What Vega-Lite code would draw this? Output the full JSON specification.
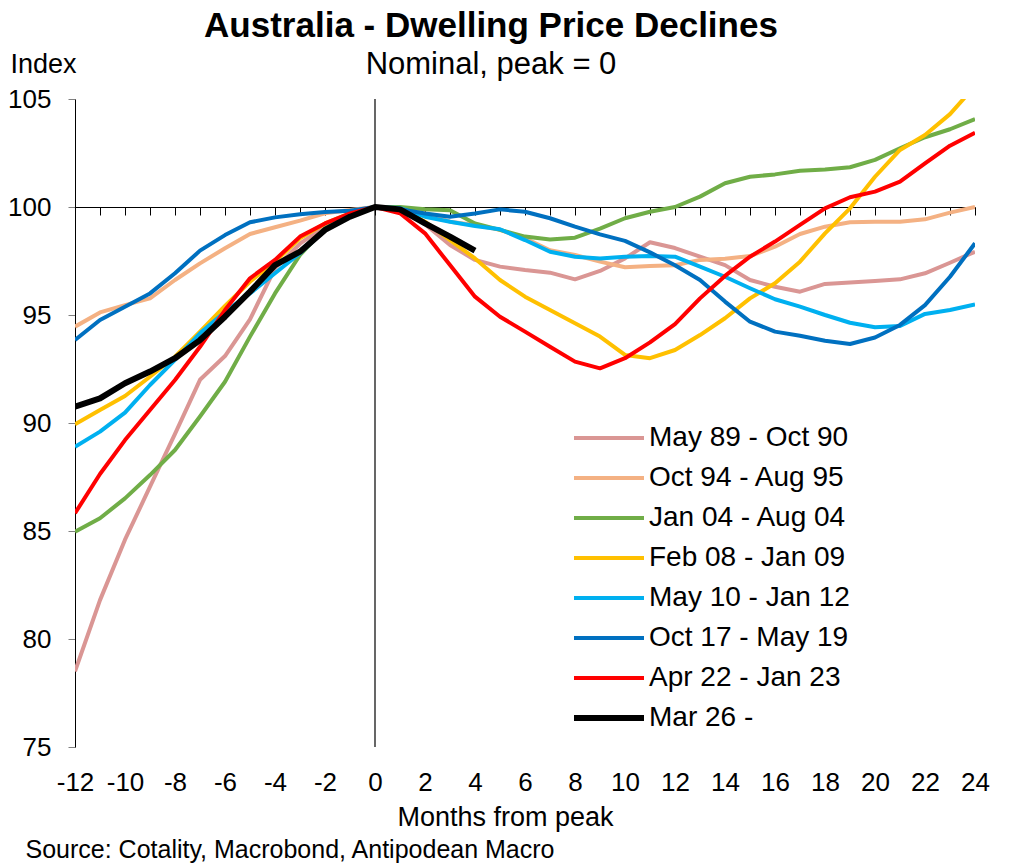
{
  "$schema": "https://vega.github.io/schema/vega-lite/v6.json",
  "width": 900,
  "height": 648,
  "autosize": {"type": "none"},
  "padding": {"left": 75, "top": 99, "right": 35, "bottom": 120},
  "background": "white",
  "config": {"view": {"stroke": null}, "font": "Liberation Sans"},
  "title": {
    "text": "Australia - Dwelling Price Declines",
    "subtitle": "Nominal, peak = 0",
    "anchor": "middle",
    "frame": "group",
    "dx": -34,
    "offset": -30,
    "font": "Liberation Sans",
    "fontSize": 35,
    "fontWeight": "bold",
    "color": "black",
    "subtitleFont": "Liberation Sans",
    "subtitleFontSize": 31,
    "subtitleColor": "black",
    "subtitlePadding": 6
  },
  "layer": [
    {
      "data": {"values": [{}]},
      "mark": {"type": "rule", "color": "black", "strokeWidth": 1.2},
      "encoding": {
        "x": {
          "datum": 0,
          "type": "quantitative",
          "scale": {"domain": [-12, 24], "nice": false, "zero": false},
          "axis": {
            "orient": "bottom",
            "offset": -540,
            "values": [-12, -11, -10, -9, -8, -7, -6, -5, -4, -3, -2, -1, 0, 1, 2, 3, 4, 5, 6, 7, 8, 9, 10, 11, 12, 13, 14, 15, 16, 17, 18, 19, 20, 21, 22, 23, 24],
            "labels": false,
            "grid": false,
            "ticks": true,
            "tickSize": 8,
            "tickColor": "black",
            "domainColor": "black",
            "title": "Source: Cotality, Macrobond, Antipodean Macro",
            "titleFont": "Liberation Sans",
            "titleFontSize": 25,
            "titleFontWeight": "normal",
            "titleColor": "black",
            "titleAlign": "left",
            "titleAnchor": "start",
            "titleBaseline": "alphabetic",
            "titleX": -50,
            "titleY": 650
          }
        }
      }
    },
    {
      "data": {
        "values": [
          {"month": -12, "May 89 - Oct 90": 78.5, "Oct 94 - Aug 95": 94.46, "Jan 04 - Aug 04": 84.97, "Feb 08 - Jan 09": 89.94, "May 10 - Jan 12": 88.9, "Oct 17 - May 19": 93.84, "Apr 22 - Jan 23": 85.82, "Mar 26 -": 90.76},
          {"month": -11, "May 89 - Oct 90": 81.8, "Oct 94 - Aug 95": 95.12, "Jan 04 - Aug 04": 85.59, "Feb 08 - Jan 09": 90.6, "May 10 - Jan 12": 89.6, "Oct 17 - May 19": 94.77, "Apr 22 - Jan 23": 87.64, "Mar 26 -": 91.14},
          {"month": -10, "May 89 - Oct 90": 84.6, "Oct 94 - Aug 95": 95.46, "Jan 04 - Aug 04": 86.51, "Feb 08 - Jan 09": 91.25, "May 10 - Jan 12": 90.48, "Oct 17 - May 19": 95.38, "Apr 22 - Jan 23": 89.21, "Mar 26 -": 91.84},
          {"month": -9, "May 89 - Oct 90": 87.05, "Oct 94 - Aug 95": 95.77, "Jan 04 - Aug 04": 87.59, "Feb 08 - Jan 09": 92.14, "May 10 - Jan 12": 91.76, "Oct 17 - May 19": 96.0, "Apr 22 - Jan 23": 90.6, "Mar 26 -": 92.38},
          {"month": -8, "May 89 - Oct 90": 89.5, "Oct 94 - Aug 95": 96.62, "Jan 04 - Aug 04": 88.75, "Feb 08 - Jan 09": 93.07, "May 10 - Jan 12": 92.92, "Oct 17 - May 19": 96.93, "Apr 22 - Jan 23": 91.99, "Mar 26 -": 93.0},
          {"month": -7, "May 89 - Oct 90": 92.0, "Oct 94 - Aug 95": 97.39, "Jan 04 - Aug 04": 90.3, "Feb 08 - Jan 09": 94.23, "May 10 - Jan 12": 94.15, "Oct 17 - May 19": 97.98, "Apr 22 - Jan 23": 93.53, "Mar 26 -": 93.84},
          {"month": -6, "May 89 - Oct 90": 93.1, "Oct 94 - Aug 95": 98.09, "Jan 04 - Aug 04": 91.91, "Feb 08 - Jan 09": 95.42, "May 10 - Jan 12": 95.15, "Oct 17 - May 19": 98.7, "Apr 22 - Jan 23": 95.23, "Mar 26 -": 94.92},
          {"month": -5, "May 89 - Oct 90": 94.8, "Oct 94 - Aug 95": 98.75, "Jan 04 - Aug 04": 94.0, "Feb 08 - Jan 09": 96.54, "May 10 - Jan 12": 96.0, "Oct 17 - May 19": 99.29, "Apr 22 - Jan 23": 96.7, "Mar 26 -": 96.08},
          {"month": -4, "May 89 - Oct 90": 97.16, "Oct 94 - Aug 95": 99.06, "Jan 04 - Aug 04": 96.0, "Feb 08 - Jan 09": 97.47, "May 10 - Jan 12": 96.93, "Oct 17 - May 19": 99.52, "Apr 22 - Jan 23": 97.55, "Mar 26 -": 97.31},
          {"month": -3, "May 89 - Oct 90": 98.3, "Oct 94 - Aug 95": 99.37, "Jan 04 - Aug 04": 97.78, "Feb 08 - Jan 09": 98.55, "May 10 - Jan 12": 97.86, "Oct 17 - May 19": 99.66, "Apr 22 - Jan 23": 98.63, "Mar 26 -": 97.93},
          {"month": -2, "May 89 - Oct 90": 99.1, "Oct 94 - Aug 95": 99.71, "Jan 04 - Aug 04": 99.01, "Feb 08 - Jan 09": 99.24, "May 10 - Jan 12": 98.94, "Oct 17 - May 19": 99.77, "Apr 22 - Jan 23": 99.24, "Mar 26 -": 98.94},
          {"month": -1, "May 89 - Oct 90": 99.63, "Oct 94 - Aug 95": 99.86, "Jan 04 - Aug 04": 99.7, "Feb 08 - Jan 09": 99.71, "May 10 - Jan 12": 99.7, "Oct 17 - May 19": 99.83, "Apr 22 - Jan 23": 99.7, "Mar 26 -": 99.55},
          {"month": 0, "May 89 - Oct 90": 100, "Oct 94 - Aug 95": 100, "Jan 04 - Aug 04": 100, "Feb 08 - Jan 09": 100, "May 10 - Jan 12": 100, "Oct 17 - May 19": 100, "Apr 22 - Jan 23": 100, "Mar 26 -": 100},
          {"month": 1, "May 89 - Oct 90": 99.9, "Oct 94 - Aug 95": 99.96, "Jan 04 - Aug 04": 100.0, "Feb 08 - Jan 09": 99.94, "May 10 - Jan 12": 99.95, "Oct 17 - May 19": 99.9, "Apr 22 - Jan 23": 99.71, "Mar 26 -": 99.89},
          {"month": 2, "May 89 - Oct 90": 99.2, "Oct 94 - Aug 95": 99.7, "Jan 04 - Aug 04": 99.9, "Feb 08 - Jan 09": 99.32, "May 10 - Jan 12": 99.55, "Oct 17 - May 19": 99.7, "Apr 22 - Jan 23": 98.78, "Mar 26 -": 99.24},
          {"month": 3, "May 89 - Oct 90": 98.24, "Oct 94 - Aug 95": 99.32, "Jan 04 - Aug 04": 99.85, "Feb 08 - Jan 09": 98.47, "May 10 - Jan 12": 99.32, "Oct 17 - May 19": 99.55, "Apr 22 - Jan 23": 97.31, "Mar 26 -": 98.63},
          {"month": 4, "May 89 - Oct 90": 97.55, "Oct 94 - Aug 95": 99.17, "Jan 04 - Aug 04": 99.24, "Feb 08 - Jan 09": 97.62, "May 10 - Jan 12": 99.12, "Oct 17 - May 19": 99.7, "Apr 22 - Jan 23": 95.85, "Mar 26 -": 97.98},
          {"month": 5, "May 89 - Oct 90": 97.24, "Oct 94 - Aug 95": 98.94, "Jan 04 - Aug 04": 98.94, "Feb 08 - Jan 09": 96.62, "May 10 - Jan 12": 98.97, "Oct 17 - May 19": 99.89, "Apr 22 - Jan 23": 94.92},
          {"month": 6, "May 89 - Oct 90": 97.08, "Oct 94 - Aug 95": 98.55, "Jan 04 - Aug 04": 98.63, "Feb 08 - Jan 09": 95.85, "May 10 - Jan 12": 98.47, "Oct 17 - May 19": 99.78, "Apr 22 - Jan 23": 94.23},
          {"month": 7, "May 89 - Oct 90": 96.96, "Oct 94 - Aug 95": 98.0, "Jan 04 - Aug 04": 98.5, "Feb 08 - Jan 09": 95.23, "May 10 - Jan 12": 97.93, "Oct 17 - May 19": 99.48, "Apr 22 - Jan 23": 93.53},
          {"month": 8, "May 89 - Oct 90": 96.65, "Oct 94 - Aug 95": 97.78, "Jan 04 - Aug 04": 98.58, "Feb 08 - Jan 09": 94.62, "May 10 - Jan 12": 97.7, "Oct 17 - May 19": 99.09, "Apr 22 - Jan 23": 92.84},
          {"month": 9, "May 89 - Oct 90": 97.04, "Oct 94 - Aug 95": 97.47, "Jan 04 - Aug 04": 99.0, "Feb 08 - Jan 09": 94.0, "May 10 - Jan 12": 97.62, "Oct 17 - May 19": 98.73, "Apr 22 - Jan 23": 92.53},
          {"month": 10, "May 89 - Oct 90": 97.62, "Oct 94 - Aug 95": 97.21, "Jan 04 - Aug 04": 99.48, "Feb 08 - Jan 09": 93.15, "May 10 - Jan 12": 97.7, "Oct 17 - May 19": 98.43, "Apr 22 - Jan 23": 93.0},
          {"month": 11, "May 89 - Oct 90": 98.37, "Oct 94 - Aug 95": 97.27, "Jan 04 - Aug 04": 99.78, "Feb 08 - Jan 09": 93.0, "May 10 - Jan 12": 97.73, "Oct 17 - May 19": 97.9, "Apr 22 - Jan 23": 93.73},
          {"month": 12, "May 89 - Oct 90": 98.1, "Oct 94 - Aug 95": 97.3, "Jan 04 - Aug 04": 100.0, "Feb 08 - Jan 09": 93.38, "May 10 - Jan 12": 97.7, "Oct 17 - May 19": 97.3, "Apr 22 - Jan 23": 94.58},
          {"month": 13, "May 89 - Oct 90": 97.7, "Oct 94 - Aug 95": 97.55, "Jan 04 - Aug 04": 100.48, "Feb 08 - Jan 09": 94.07, "May 10 - Jan 12": 97.24, "Oct 17 - May 19": 96.62, "Apr 22 - Jan 23": 95.77},
          {"month": 14, "May 89 - Oct 90": 97.31, "Oct 94 - Aug 95": 97.6, "Jan 04 - Aug 04": 101.1, "Feb 08 - Jan 09": 94.85, "May 10 - Jan 12": 96.77, "Oct 17 - May 19": 95.62, "Apr 22 - Jan 23": 96.81},
          {"month": 15, "May 89 - Oct 90": 96.62, "Oct 94 - Aug 95": 97.73, "Jan 04 - Aug 04": 101.4, "Feb 08 - Jan 09": 95.77, "May 10 - Jan 12": 96.24, "Oct 17 - May 19": 94.69, "Apr 22 - Jan 23": 97.7},
          {"month": 16, "May 89 - Oct 90": 96.31, "Oct 94 - Aug 95": 98.16, "Jan 04 - Aug 04": 101.51, "Feb 08 - Jan 09": 96.47, "May 10 - Jan 12": 95.73, "Oct 17 - May 19": 94.23, "Apr 22 - Jan 23": 98.4},
          {"month": 17, "May 89 - Oct 90": 96.08, "Oct 94 - Aug 95": 98.75, "Jan 04 - Aug 04": 101.68, "Feb 08 - Jan 09": 97.47, "May 10 - Jan 12": 95.39, "Oct 17 - May 19": 94.04, "Apr 22 - Jan 23": 99.17},
          {"month": 18, "May 89 - Oct 90": 96.44, "Oct 94 - Aug 95": 99.09, "Jan 04 - Aug 04": 101.74, "Feb 08 - Jan 09": 98.78, "May 10 - Jan 12": 95.0, "Oct 17 - May 19": 93.81, "Apr 22 - Jan 23": 99.94},
          {"month": 19, "May 89 - Oct 90": 96.5, "Oct 94 - Aug 95": 99.29, "Jan 04 - Aug 04": 101.84, "Feb 08 - Jan 09": 99.94, "May 10 - Jan 12": 94.64, "Oct 17 - May 19": 93.66, "Apr 22 - Jan 23": 100.45},
          {"month": 20, "May 89 - Oct 90": 96.57, "Oct 94 - Aug 95": 99.32, "Jan 04 - Aug 04": 102.18, "Feb 08 - Jan 09": 101.4, "May 10 - Jan 12": 94.43, "Oct 17 - May 19": 93.96, "Apr 22 - Jan 23": 100.71},
          {"month": 21, "May 89 - Oct 90": 96.65, "Oct 94 - Aug 95": 99.32, "Jan 04 - Aug 04": 102.72, "Feb 08 - Jan 09": 102.64, "May 10 - Jan 12": 94.49, "Oct 17 - May 19": 94.54, "Apr 22 - Jan 23": 101.17},
          {"month": 22, "May 89 - Oct 90": 96.93, "Oct 94 - Aug 95": 99.43, "Jan 04 - Aug 04": 103.23, "Feb 08 - Jan 09": 103.33, "May 10 - Jan 12": 95.05, "Oct 17 - May 19": 95.46, "Apr 22 - Jan 23": 102.02},
          {"month": 23, "May 89 - Oct 90": 97.42, "Oct 94 - Aug 95": 99.74, "Jan 04 - Aug 04": 103.6, "Feb 08 - Jan 09": 104.3, "May 10 - Jan 12": 95.23, "Oct 17 - May 19": 96.77, "Apr 22 - Jan 23": 102.84},
          {"month": 24, "May 89 - Oct 90": 97.93, "Oct 94 - Aug 95": 100.0, "Jan 04 - Aug 04": 104.07, "Feb 08 - Jan 09": 105.6, "May 10 - Jan 12": 95.49, "Oct 17 - May 19": 98.32, "Apr 22 - Jan 23": 103.44}
        ]
      },
      "transform": [
        {"fold": ["May 89 - Oct 90", "Oct 94 - Aug 95", "Jan 04 - Aug 04", "Feb 08 - Jan 09", "May 10 - Jan 12", "Oct 17 - May 19", "Apr 22 - Jan 23", "Mar 26 -"], "as": ["period", "index"]},
        {"filter": "isValid(datum.index)"}
      ],
      "mark": {"type": "line", "clip": true, "strokeJoin": "round"},
      "encoding": {
        "x": {
          "field": "month",
          "type": "quantitative",
          "scale": {"domain": [-12, 24], "nice": false, "zero": false},
          "axis": {
            "orient": "bottom",
            "values": [-12, -10, -8, -6, -4, -2, 0, 2, 4, 6, 8, 10, 12, 14, 16, 18, 20, 22, 24],
            "labelExpr": "'' + datum.value",
            "labelOverlap": false,
            "labelFlush": false,
            "domain": false,
            "ticks": false,
            "tickSize": 0,
            "grid": false,
            "labelFont": "Liberation Sans",
            "labelFontSize": 26,
            "labelColor": "black",
            "labelBaseline": "alphabetic",
            "labelPadding": 43,
            "title": "Months from peak",
            "titleFont": "Liberation Sans",
            "titleFontSize": 27,
            "titleFontWeight": "normal",
            "titleColor": "black",
            "titleBaseline": "alphabetic",
            "titleX": 430,
            "titleY": 78
          }
        },
        "y": {
          "field": "index",
          "type": "quantitative",
          "scale": {"domain": [75, 105], "nice": false, "zero": false},
          "axis": {
            "values": [75, 80, 85, 90, 95, 100, 105],
            "grid": false,
            "domainColor": "black",
            "tickColor": "#808080",
            "tickSize": 7,
            "labelFont": "Liberation Sans",
            "labelFontSize": 26,
            "labelColor": "black",
            "labelPadding": 17,
            "title": "Index",
            "titleFont": "Liberation Sans",
            "titleFontSize": 27,
            "titleFontWeight": "normal",
            "titleColor": "black",
            "titleAngle": 0,
            "titleAlign": "left",
            "titleBaseline": "alphabetic",
            "titleX": -65,
            "titleY": -27
          }
        },
        "color": {
          "field": "period",
          "type": "nominal",
          "scale": {
            "domain": ["May 89 - Oct 90", "Oct 94 - Aug 95", "Jan 04 - Aug 04", "Feb 08 - Jan 09", "May 10 - Jan 12", "Oct 17 - May 19", "Apr 22 - Jan 23", "Mar 26 -"],
            "range": ["#DA9694", "#F4B183", "#70AD47", "#FFC000", "#00B0F0", "#0070C0", "#FF0000", "#000000"]
          },
          "legend": {
            "orient": "none",
            "legendX": 496,
            "legendY": 319,
            "title": null,
            "padding": 0,
            "symbolType": "stroke",
            "symbolSize": 4900,
            "clipHeight": 40,
            "labelFont": "Liberation Sans",
            "labelFontSize": 28,
            "labelColor": "black",
            "labelOffset": 2,
            "labelLimit": 400,
            "rowPadding": 0
          }
        },
        "strokeWidth": {
          "field": "period",
          "type": "nominal",
          "scale": {
            "type": "ordinal",
            "domain": ["May 89 - Oct 90", "Oct 94 - Aug 95", "Jan 04 - Aug 04", "Feb 08 - Jan 09", "May 10 - Jan 12", "Oct 17 - May 19", "Apr 22 - Jan 23", "Mar 26 -"],
            "range": [4, 4, 4, 4, 4, 4, 4, 6]
          },
          "legend": {
            "orient": "none",
            "legendX": 496,
            "legendY": 319,
            "title": null,
            "padding": 0,
            "symbolType": "stroke",
            "symbolSize": 4900,
            "clipHeight": 40,
            "labelFont": "Liberation Sans",
            "labelFontSize": 28,
            "labelColor": "black",
            "labelOffset": 2,
            "labelLimit": 400,
            "rowPadding": 0
          }
        }
      }
    }
  ],
  "resolve": {"axis": {"x": "independent"}}
}
